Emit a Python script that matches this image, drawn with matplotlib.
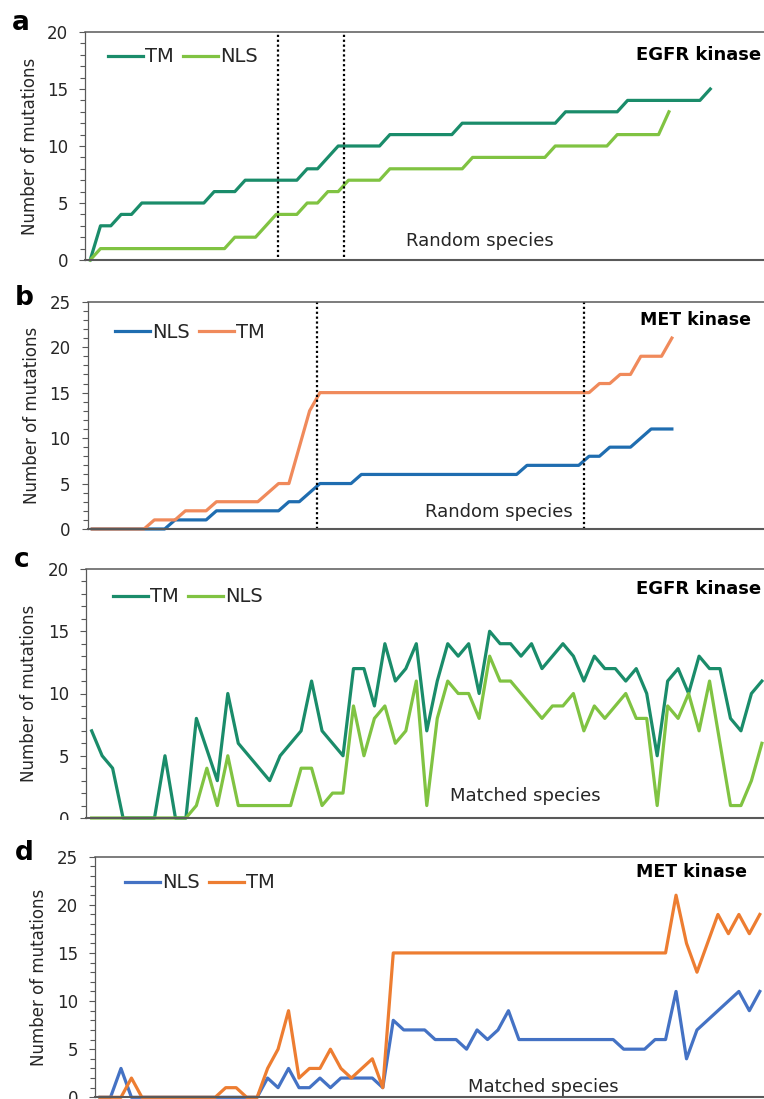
import matplotlib
matplotlib.use('Agg')
import matplotlib.pyplot as plt
from matplotlib.patches import Rectangle
import numpy as np

plt.rcParams['font.family'] = ['DejaVu Sans']

W, H = 764, 1099

# ---------------- data ----------------
# Panel a: EGFR kinase, random species (cumulative)
a_tm = [0, 3, 3, 4, 4, 5, 5, 5, 5, 5, 5, 5, 6, 6, 6, 7, 7, 7, 7, 7, 7, 8, 8, 9,
        10, 10, 10, 10, 10, 11, 11, 11, 11, 11, 11, 11, 12, 12, 12, 12, 12, 12,
        12, 12, 12, 12, 13, 13, 13, 13, 13, 13, 14, 14, 14, 14, 14, 14, 14, 14, 15]
a_nls = [0, 1, 1, 1, 1, 1, 1, 1, 1, 1, 1, 1, 1, 1, 2, 2, 2, 3, 4, 4, 4, 5, 5, 6, 6,
         7, 7, 7, 7, 8, 8, 8, 8, 8, 8, 8, 8, 9, 9, 9, 9, 9, 9, 9, 9,
         10, 10, 10, 10, 10, 10, 11, 11, 11, 11, 11, 13]
a_vlines = [18.13, 24.6]

# Panel b: MET kinase, random species (cumulative)
b_nls = [0, 0, 0, 0, 0, 0, 0, 0, 1, 1, 1, 1, 2, 2, 2, 2, 2, 2, 2, 3, 3, 4, 5, 5, 5, 5,
         6, 6, 6, 6, 6, 6, 6, 6, 6, 6, 6, 6, 6, 6, 6, 6, 7, 7, 7, 7, 7, 7,
         8, 8, 9, 9, 9, 10, 11, 11, 11]
b_tm = [0, 0, 0, 0, 0, 0, 1, 1, 1, 2, 2, 2, 3, 3, 3, 3, 3, 4, 5, 5, 9, 13,
        15, 15, 15, 15, 15, 15, 15, 15, 15, 15, 15, 15, 15, 15, 15, 15, 15, 15,
        15, 15, 15, 15, 15, 15, 15, 15, 15, 16, 16, 17, 17, 19, 19, 19, 21]
b_vlines = [21.76, 47.5]

# Panel c: EGFR kinase, matched species
c_tm = [7, 5, 4, 0, 0, 0, 0, 5, 0, 0, 8, 5.5, 3, 10, 6, 5, 4, 3, 5, 6, 7, 11, 7, 6, 5,
        12, 12, 9, 14, 11, 12, 14, 7, 11, 14, 13, 14, 10, 15, 14, 14, 13, 14, 12,
        13, 14, 13, 11, 13, 12, 12, 11, 12, 10, 5, 11, 12, 10, 13, 12, 12, 8, 7, 10, 11]
c_nls = [0, 0, 0, 0, 0, 0, 0, 0, 0, 0, 1, 4, 1, 5, 1, 1, 1, 1, 1, 1, 4, 4, 1, 2, 2,
         9, 5, 8, 9, 6, 7, 11, 1, 8, 11, 10, 10, 8, 13, 11, 11, 10, 9, 8,
         9, 9, 10, 7, 9, 8, 9, 10, 8, 8, 1, 9, 8, 10, 7, 11, 6, 1, 1, 3, 6]

# Panel d: MET kinase, matched species
d_nls = [0, 0, 3, 0, 0, 0, 0, 0, 0, 0, 0, 0, 0, 0, 0, 0, 2, 1, 3, 1, 1, 2, 1, 2, 2, 2,
         2, 1, 8, 7, 7, 7, 6, 6, 6, 5, 7, 6, 7, 9, 6, 6, 6, 6, 6, 6, 6, 6, 6, 6,
         5, 5, 5, 6, 6, 11, 4, 7, 8, 9, 10, 11, 9, 11]
d_tm = [0, 0, 0, 2, 0, 0, 0, 0, 0, 0, 0, 0, 1, 1, 0, 0, 3, 5, 9, 2, 3, 3, 5, 3, 2, 3,
        4, 1, 15, 15, 15, 15, 15, 15, 15, 15, 15, 15, 15, 15, 15, 15, 15, 15, 15,
        15, 15, 15, 15, 15, 15, 15, 15, 15, 15, 21, 16, 13, 16, 19, 17, 19, 17, 19]

# colours
GREEN_DARK, GREEN_LIGHT = '#1a8c6a', '#80c342'
B_BLUE, B_ORANGE = '#1f6db0', '#f08a5b'
D_BLUE, D_ORANGE = '#4472c4', '#ed7d31'
SPINE = '#595959'
TXT = '#262626'

fig = plt.figure(figsize=(W / 100, H / 100), dpi=100)
fig.patch.set_facecolor('white')


def add_axes(left, top, bottom, right=W):
    return fig.add_axes([left / W, 1 - bottom / H, (right - left) / W, (bottom - top) / H])


def ftext(x, y, s, **kw):
    return fig.text(x / W, 1 - y / H, s, **kw)


def style(ax, ymax, xlim):
    ax.set_xlim(*xlim)
    ax.set_ylim(0, ymax)
    ax.set_yticks(range(0, ymax + 1, 5))
    ax.set_yticks(range(0, ymax + 1), minor=True)
    ax.set_xticks([])
    ax.tick_params(axis='y', which='major', direction='out', length=4.3, width=0.8,
                   color=SPINE, pad=8, labelsize=12, labelcolor=TXT)
    ax.tick_params(axis='y', which='minor', direction='out', length=3.4, width=0.8,
                   color=SPINE)
    ax.spines['right'].set_visible(False)
    ax.spines['left'].set_color(SPINE)
    ax.spines['left'].set_linewidth(0.9)
    ax.spines['top'].set_color(SPINE)
    ax.spines['top'].set_linewidth(1.1)
    ax.spines['bottom'].set_color(SPINE)
    ax.spines['bottom'].set_linewidth(1.5)
    ax.set_facecolor('white')


def legend(ax, x, y):
    ax.legend(loc='center left', bbox_to_anchor=(x / W, 1 - y / H),
              bbox_transform=fig.transFigure, frameon=False, ncol=2,
              handlelength=1.8, handletextpad=0.12, columnspacing=0.45,
              borderpad=0, borderaxespad=0, fontsize=14, labelcolor=TXT)


LW = 2.3

# ---------------- panel a ----------------
ax_a = add_axes(85, 32, 260)
style(ax_a, 20, (-0.5, 65.2))
ax_a.plot(np.arange(len(a_tm)), a_tm, color=GREEN_DARK, lw=LW, label='TM', clip_on=False)
ax_a.plot(np.arange(len(a_nls)), a_nls, color=GREEN_LIGHT, lw=LW, label='NLS', clip_on=False)
for xv in a_vlines:
    ax_a.axvline(xv, ymin=0.015, ymax=1, color='black', ls=(0, (1, 1.2)), lw=1.6)
legend(ax_a, 108, 57)

# ---------------- panel b ----------------
ax_b = add_axes(87.6, 301.7, 529)
style(ax_b, 25, (-0.45, 64.9))
ax_b.plot(np.arange(len(b_nls)), b_nls, color=B_BLUE, lw=LW, label='NLS', clip_on=False)
ax_b.plot(np.arange(len(b_tm)), b_tm, color=B_ORANGE, lw=LW, label='TM', clip_on=False)
for xv in b_vlines:
    ax_b.axvline(xv, ymin=0.0, ymax=1, color='black', ls=(0, (1, 1.2)), lw=1.6)
legend(ax_b, 115, 332)

# ---------------- panel c ----------------
ax_c = add_axes(86, 569, 818)
style(ax_c, 20, (-0.54, 64.2))
ax_c.plot(np.arange(len(c_tm)), c_tm, color=GREEN_DARK, lw=LW, label='TM', clip_on=False)
ax_c.plot(np.arange(len(c_nls)), c_nls, color=GREEN_LIGHT, lw=LW, label='NLS', clip_on=False)
legend(ax_c, 113, 597)

# crop band between panel c and d (the source figure cuts panel c here)
fig.patches.append(Rectangle((0, 0), 1, 1 - 820 / H, transform=fig.transFigure,
                             facecolor='white', edgecolor='none', zorder=1))

# ---------------- panel d ----------------
ax_d = add_axes(95, 856.7, 1097.3)
ax_d.set_zorder(2)
style(ax_d, 25, (-0.48, 63.4))
ax_d.plot(np.arange(len(d_nls)), d_nls, color=D_BLUE, lw=LW, label='NLS', clip_on=False)
ax_d.plot(np.arange(len(d_tm)), d_tm, color=D_ORANGE, lw=LW, label='TM', clip_on=False)
legend(ax_d, 125, 883)

# ---------------- texts ----------------
for (x, y, s) in [(21, 30, 'a'), (24, 305, 'b'), (22, 567, 'c'), (24, 860, 'd')]:
    ftext(x, y, s, fontsize=19, fontweight='bold', ha='center', va='baseline',
          color='black', zorder=5)

for (x, y) in [(30, 146), (32, 415), (29.5, 693.5), (39.5, 977)]:
    ftext(x, y, 'Number of mutations', fontsize=12, rotation=90, ha='center',
          va='center', color=TXT, zorder=5)

ftext(699, 55, 'EGFR kinase', fontsize=13, fontweight='bold', ha='center', va='center', zorder=5)
ftext(696, 320, 'MET kinase', fontsize=12.5, fontweight='bold', ha='center', va='center', zorder=5)
ftext(699, 589, 'EGFR kinase', fontsize=13, fontweight='bold', ha='center', va='center', zorder=5)
ftext(692, 872, 'MET kinase', fontsize=12.5, fontweight='bold', ha='center', va='center', zorder=5)

ftext(480, 241, 'Random species', fontsize=13, ha='center', va='center', color=TXT, zorder=5)
ftext(499, 512, 'Random species', fontsize=13, ha='center', va='center', color=TXT, zorder=5)
ftext(525, 796, 'Matched species', fontsize=13, ha='center', va='center', color=TXT, zorder=5)
ftext(543, 1087, 'Matched species', fontsize=13, ha='center', va='center', color=TXT, zorder=5)

fig.savefig('out.png', dpi=100, facecolor='white')
